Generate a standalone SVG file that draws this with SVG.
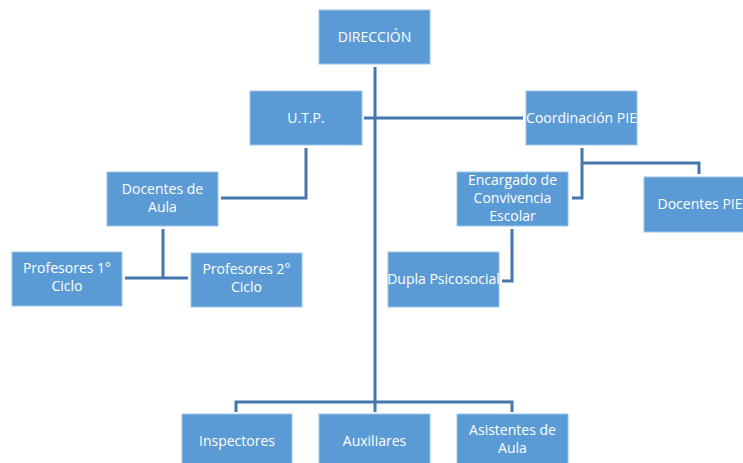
<svg xmlns="http://www.w3.org/2000/svg" width="743" height="463" viewBox="0 0 743 463">
<style>
.box{fill:#5B9BD5;stroke:#9DC3E6;stroke-width:1}
.t{font-family:"Open Sans","Liberation Sans",sans-serif;font-size:14px;fill:#ffffff;text-anchor:middle}
.c{fill:none;stroke:#4677AA;stroke-width:3}
</style>
<rect width="743" height="463" fill="#ffffff"/>
<g id="connectors">
<path class="c" d="M375,67 V412"/>
<path class="c" d="M364,118 H523"/>
<path class="c" d="M236,412 V402 H512 V412"/>
<path class="c" d="M306,148 V198 H221"/>
<path class="c" d="M163,229 V278 M125,278 H188"/>
<path class="c" d="M582,148 V198 H572 M582,163 H699 V174"/>
<path class="c" d="M512,229 V281 H502"/>
</g>
<g id="direccion"><rect class="box" x="319" y="10" width="111" height="54"/><text class="t" x="374.5" y="42">DIRECCIÓN</text></g>
<g id="utp"><rect class="box" x="250" y="91" width="112" height="54"/><text class="t" x="306" y="123">U.T.P.</text></g>
<g id="coordinacion"><rect class="box" x="526" y="91" width="111" height="54"/><text class="t" x="581.5" y="123">Coordinación PIE</text></g>
<g id="docentes-aula"><rect class="box" x="107" y="172" width="111" height="54"/><text class="t" x="162.5" y="194">Docentes de</text><text class="t" x="162.5" y="212">Aula</text></g>
<g id="encargado"><rect class="box" x="457" y="172" width="111" height="54"/><text class="t" x="512.5" y="185">Encargado de</text><text class="t" x="512.5" y="203">Convivencia</text><text class="t" x="512.5" y="221">Escolar</text></g>
<g id="docentes-pie"><rect class="box" x="644" y="177" width="100" height="55"/><text class="t" x="700" y="209">Docentes PIE</text></g>
<g id="profesores1"><rect class="box" x="12" y="252" width="110" height="54"/><text class="t" x="67" y="273">Profesores 1°</text><text class="t" x="67" y="291">Ciclo</text></g>
<g id="profesores2"><rect class="box" x="191" y="253" width="111" height="54"/><text class="t" x="246.5" y="274">Profesores 2°</text><text class="t" x="246.5" y="292">Ciclo</text></g>
<g id="dupla"><rect class="box" x="388" y="252" width="111" height="55"/><text class="t" x="443.5" y="284">Dupla Psicosocial</text></g>
<g id="inspectores"><rect class="box" x="182" y="414" width="110" height="55"/><text class="t" x="237" y="446">Inspectores</text></g>
<g id="auxiliares"><rect class="box" x="319" y="414" width="111" height="55"/><text class="t" x="374.5" y="446">Auxiliares</text></g>
<g id="asistentes"><rect class="box" x="457" y="414" width="111" height="55"/><text class="t" x="512.5" y="435">Asistentes de</text><text class="t" x="512.5" y="453">Aula</text></g>
</svg>
